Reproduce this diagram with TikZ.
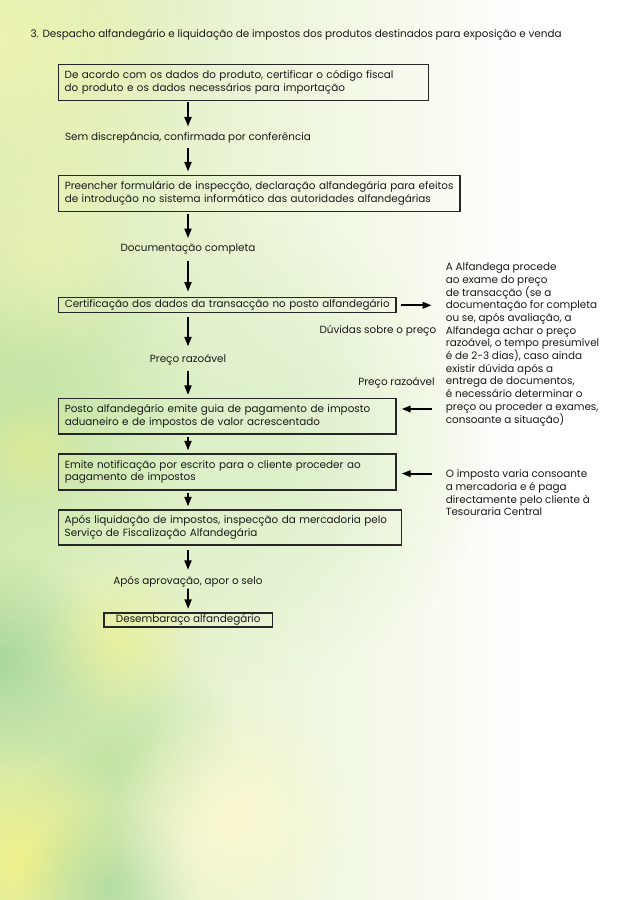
\documentclass[tikz,border=0pt]{standalone}
\usepackage{fontspec}
\setmainfont{Poppins}
\usetikzlibrary{arrows.meta,fadings}
\tikzfading[name=softblob, inner color=transparent!0, outer color=transparent!100]
\definecolor{bgA}{HTML}{D8ECB2}
\definecolor{bgYel}{HTML}{EEF4B2}
\definecolor{bgGrn}{HTML}{C2E3A4}
\definecolor{bgDeep}{HTML}{A9D89C}
\definecolor{bgY2}{HTML}{EEF08A}
\definecolor{bgCream}{HTML}{FBF8D0}
\definecolor{bgMid}{HTML}{DAEFC6}
\definecolor{inkc}{HTML}{1A1A1A}
\definecolor{edgec}{HTML}{262626}
\tikzset{
  flowbox/.style={draw=edgec, line width=1.3pt, rectangle, align=left, inner xsep=6pt, inner ysep=0pt, text=inkc,
    append after command={[draw=white, line width=0.5pt, opacity=0.8]
      ([shift={(1.2,1.2)}]\tikzlastnode.north west) rectangle ([shift={(-1.2,-1.2)}]\tikzlastnode.south east)}},
  lbl/.style={inner sep=0pt, minimum height=10pt, text=inkc},
  plain/.style={inner sep=0pt, align=left, text=inkc},
  arr/.style={line width=1.8pt, draw=black, -{Triangle[length=9.5pt,width=7pt]}},
  harr/.style={line width=1.8pt, draw=black, -{Triangle[length=9pt,width=6.5pt]}},
  blob/.style={path fading=softblob}
}
\begin{document}
\begin{tikzpicture}[x=1pt,y=-1pt,font=\fontsize{10.4}{12.7}\selectfont]
% background
\useasboundingbox (0,0) rectangle (636,900);
\fill[white] (0,0) rectangle (636,900);
\shade[left color=bgA, right color=white] (0,0) rectangle (530,900);
\fill[bgMid, blob, opacity=0.9] (260,450) circle (230);
\fill[bgYel, blob] (0,40) circle (200);
\fill[bgGrn, blob, opacity=0.9] (20,400) circle (190);
\fill[bgYel, blob, opacity=0.7] (40,250) circle (110);
\fill[bgGrn, blob] (110,760) circle (130);
\fill[bgDeep, blob] (0,660) circle (110);
\fill[bgY2, blob] (20,860) circle (120);
\fill[bgDeep, blob, opacity=0.8] (110,890) circle (90);
\fill[bgCream, blob] (230,820) circle (120);
\fill[bgY2, blob, opacity=0.6] (120,640) circle (80);
\fill[bgY2, blob, opacity=0.5] (30,450) circle (60);

% title
\node[plain, anchor=west] (title) at (30.4,35) {3. Despacho alfandegário e liquidação de impostos dos produtos destinados para exposição e venda};

% boxes
\node[flowbox, text width=358, minimum height=36] (b1) at (243.7,82.3)
  {\mbox{De acordo com os dados do produto, certificar o código fiscal}\\\mbox{do produto e os dados necessários para importação}};
\node[lbl] (l1) at (188,137.6) {Sem discrepância, confirmada por conferência};
\node[flowbox, text width=389.3, minimum height=36] (b2) at (259.4,193.6)
  {\mbox{Preencher formulário de inspecção, declaração alfandegária para efeitos}\\\mbox{de introdução no sistema informático das autoridades alfandegárias}};
\node[lbl] (l2) at (188,249) {Documentação completa};
\node[flowbox, text width=325.3, minimum height=15] (b3) at (227.4,305.3)
  {\mbox{Certificação dos dados da transacção no posto alfandegário}};
\node[lbl] (l3) at (188,360) {Preço razoável};
\node[flowbox, text width=325.3, minimum height=35.5] (b4) at (227.4,416.3)
  {\mbox{Posto alfandegário emite guia de pagamento de imposto}\\\mbox{aduaneiro e de impostos de valor acrescentado}};
\node[flowbox, text width=325.3, minimum height=36] (b5) at (227.4,472)
  {\mbox{Emite notificação por escrito para o cliente proceder ao}\\\mbox{pagamento de impostos}};
\node[flowbox, text width=330.8, minimum height=35] (b6) at (230.1,527.5)
  {\mbox{Após liquidação de impostos, inspecção da mercadoria pelo}\\\mbox{Serviço de Fiscalização Alfandegária}};
\node[lbl] (l4) at (188,582) {Após aprovação, apor o selo};
\node[flowbox, align=center, minimum width=168.3, minimum height=14, inner xsep=0pt] (b7) at (188.2,620)
  {Desembaraço alfandegário};

% right side texts
\node[plain, anchor=north west] (r1) at (445.7,262.5)
  {A Alfandega procede\\ao exame do preço\\de transacção (se a\\documentação for completa\\ou se, após avaliação, a\\Alfandega achar o preço\\razoável, o tempo presumível\\é de 2-3 dias), caso ainda\\existir dúvida após a\\entrega de documentos,\\é necessário determinar o\\preço ou proceder a exames,\\consoante a situação)};
\node[plain, anchor=east] (d1) at (436.4,331) {Dúvidas sobre o preço};
\node[plain, anchor=east] (p2) at (434.8,382.5) {Preço razoável};
\node[plain, anchor=north west] (r2) at (445.7,469.5)
  {O imposto varia consoante\\a mercadoria e é paga\\directamente pelo cliente à\\Tesouraria Central};

% vertical arrows
\draw[arr, shorten <=1.5pt, shorten >=5.6pt] (l1 |- b1.south) -- (l1.north);
\draw[arr, shorten <=4.4pt, shorten >=3.5pt] (l1.south) -- (l1 |- b2.north);
\draw[arr, shorten <=1.4pt, shorten >=5.5pt] (l2 |- b2.south) -- (l2.north);
\draw[arr, shorten <=7pt, shorten >=5.5pt] (l2.south) -- (l2 |- b3.north);
\draw[arr, shorten <=3.5pt, shorten >=8pt] (l3 |- b3.south) -- (l3.north);
\draw[arr, shorten <=5pt, shorten >=3pt] (l3.south) -- (l3 |- b4.north);
\draw[arr, shorten <=2pt, shorten >=3pt] (l3 |- b4.south) -- (l3 |- b5.north);
\draw[arr, shorten <=2pt, shorten >=3pt] (l3 |- b5.south) -- (l3 |- b6.north);
\draw[arr, shorten <=4pt, shorten >=6.5pt] (l4 |- b6.south) -- (l4.north);
\draw[arr, shorten <=1pt, shorten >=3.5pt] (l4.south) -- (b7.north);

% horizontal arrows
\draw[harr, shorten <=4pt, shorten >=14pt] (b3.east) -- (b3.east -| r1.west);
\coordinate (c1) at (432,409);
\coordinate (c2) at (432,473.6);
\draw[harr, shorten >=5pt] (c1) -- (c1 -| b4.east);
\draw[harr, shorten >=5pt] (c2) -- (c2 -| b5.east);
\end{tikzpicture}
\end{document}
